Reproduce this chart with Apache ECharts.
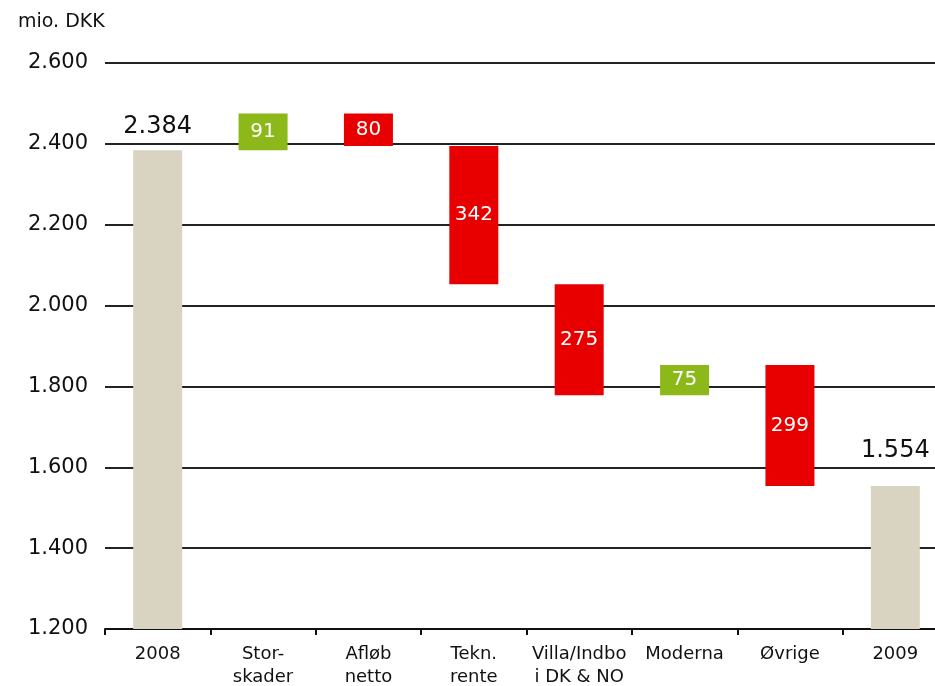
<!DOCTYPE html>
<html>
<head>
<meta charset="utf-8">
<script src="https://cdn.jsdelivr.net/npm/echarts@6/dist/echarts.min.js"></script>
<style>
  html, body { margin: 0; padding: 0; background: #fff; }
  #chart { width: 935px; height: 686px; }
</style>
</head>
<body>
<div id="chart"></div>
<script>
// waterfall: start total, changes, end total
const categories = ['2008', 'Stor-\nskader', 'Afløb\nnetto', 'Tekn.\nrente', 'Villa/Indbo\ni DK & NO', 'Moderna', 'Øvrige', '2009']
const startValue = 2384
const changes = [91, -80, -342, -275, 75, -299]
const endValue = 1554
const yTicks = { min: 1200, max: 2600, interval: 200 }

const fmt = (v) => {
  const s = String(Math.round(Math.abs(v)))
  return s.replace(/\B(?=(\d{3})+(?!\d))/g, '.')
}

// build stack columns from the running total
const base = [0]
const up = ['-']
const down = ['-']
const totals = [{ value: startValue, label: { distance: 12 } }]
let running = startValue
changes.forEach((d) => {
  const next = running + d
  base.push(Math.min(running, next))
  up.push(d > 0 ? d : '-')
  down.push(d < 0 ? -d : '-')
  totals.push('-')
  running = next
})
base.push(0)
up.push('-')
down.push('-')
totals.push({ value: endValue, label: { distance: 23 } })

const font = '"DejaVu Sans", Verdana, sans-serif'
const chart = echarts.init(document.getElementById('chart'))

chart.setOption({
  animation: false,
  textStyle: { fontFamily: font },
  title: {
    text: 'mio. DKK',
    left: 13,
    top: 8,
    textStyle: { fontFamily: font, fontSize: 19, fontWeight: 'normal', color: '#111' }
  },
  grid: { left: 105, right: -13, top: 63, bottom: 57, outerBoundsMode: 'none', containLabel: false },
  xAxis: {
    type: 'category',
    data: categories,
    axisLine: { lineStyle: { color: '#111', width: 2 } },
    axisTick: { show: true, length: 6, lineStyle: { color: '#111', width: 2 } },
    axisLabel: { color: '#111', fontSize: 18, lineHeight: 23, margin: 14, interval: 0 }
  },
  yAxis: {
    type: 'value',
    min: yTicks.min,
    max: yTicks.max,
    interval: yTicks.interval,
    axisLine: { show: false },
    axisTick: { show: false },
    axisLabel: { color: '#111', fontSize: 21, margin: 17, formatter: fmt },
    splitLine: { lineStyle: { color: '#222', width: 2 } }
  },
  series: [
    {
      type: 'bar',
      stack: 'w',
      barWidth: 49,
      itemStyle: { color: 'transparent' },
      data: base,
      z: 1
    },
    {
      type: 'bar',
      stack: 'w',
      itemStyle: { color: '#8CB81A' },
      label: { show: true, position: 'inside', color: '#fff', fontSize: 20, formatter: (p) => fmt(p.value) },
      data: up
    },
    {
      type: 'bar',
      stack: 'w',
      itemStyle: { color: '#E80000' },
      label: { show: true, position: 'inside', color: '#fff', fontSize: 20, formatter: (p) => fmt(p.value) },
      data: down
    },
    {
      type: 'bar',
      stack: 'w',
      itemStyle: { color: '#D9D4C2' },
      label: { show: true, position: 'top', color: '#111', fontSize: 24, formatter: (p) => fmt(p.value) },
      data: totals
    }
  ]
})
</script>
</body>
</html>
